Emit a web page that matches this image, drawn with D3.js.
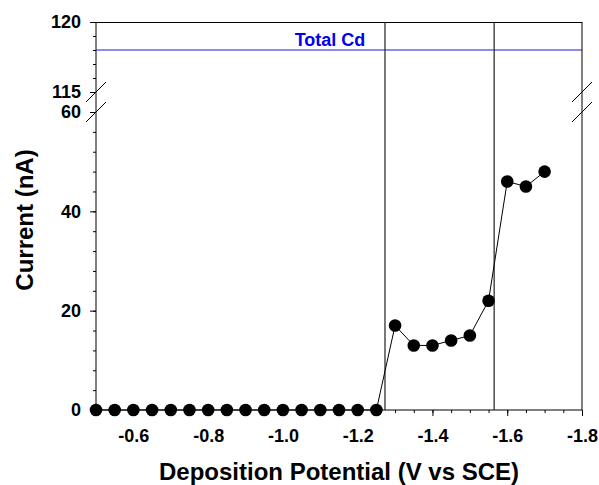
<!DOCTYPE html>
<html>
<head>
<meta charset="utf-8">
<script src="https://cdn.jsdelivr.net/npm/d3@7"></script>
<style>
body { margin: 0; background: #fff; }
text { font-family: "Liberation Sans", Arial, sans-serif; font-weight: bold; }
</style>
</head>
<body>
<script>
var w = 599;
var h = 485;

// data
var potentials = [-0.50, -0.55, -0.60, -0.65, -0.70, -0.75, -0.80, -0.85, -0.90, -0.95,
                  -1.00, -1.05, -1.10, -1.15, -1.20, -1.25, -1.30, -1.35, -1.40, -1.45,
                  -1.50, -1.55, -1.60, -1.65, -1.70];
var currents = [0, 0, 0, 0, 0, 0, 0, 0, 0, 0,
                0, 0, 0, 0, 0, 0, 17, 13, 13, 14,
                15, 22, 46, 45, 48];
var totalCd = 118;
var markerLines = [-1.273, -1.565];

var xTicks = [-0.6, -0.8, -1.0, -1.2, -1.4, -1.6, -1.8];
var yTicksLow = [0, 20, 40, 60];
var yTicksHigh = [115, 120];

var left = 96, right = 582;
var topY = 22, breakHi = 92, breakLo = 112, bottom = 410;

var svg = d3.select("body").append("svg")
    .attr("width", w)
    .attr("height", h);

var x = d3.scaleLinear().domain([-0.5, -1.8]).range([left, right]);
var yLow = d3.scaleLinear().domain([0, 60]).range([bottom, breakLo]);
var yHigh = d3.scaleLinear().domain([115, 120]).range([breakHi, topY]);

function minorRange(a, b, step) {
    var out = [];
    var n = Math.round((b - a) / step);
    for (var i = 0; i <= n; i++) out.push(+(a + i * step).toFixed(3));
    return out;
}

function styleAxis(g) {
    g.select(".domain").remove();
    g.selectAll("line").attr("stroke", "#000").attr("stroke-width", 1);
    g.selectAll("text").attr("fill", "#000").attr("font-size", 18);
}

//---- minor ticks -----
svg.append("g").attr("transform", "translate(0," + bottom + ")")
    .call(d3.axisBottom(x).tickValues(minorRange(-1.8, -0.5, 0.05)).tickSize(3).tickFormat(""))
    .call(styleAxis);
svg.append("g").attr("transform", "translate(" + left + ",0)")
    .call(d3.axisLeft(yLow).tickValues(minorRange(0, 60, 4)).tickSize(3).tickFormat(""))
    .call(styleAxis);
svg.append("g").attr("transform", "translate(" + left + ",0)")
    .call(d3.axisLeft(yHigh).tickValues(minorRange(115, 120, 1)).tickSize(3).tickFormat(""))
    .call(styleAxis);

//---- major ticks -----
svg.append("g").attr("transform", "translate(0," + bottom + ")")
    .call(d3.axisBottom(x).tickValues(xTicks).tickSize(6).tickPadding(13)
        .tickFormat(function (d) { return d.toFixed(1); }))
    .call(styleAxis);
svg.append("g").attr("transform", "translate(" + left + ",0)")
    .call(d3.axisLeft(yLow).tickValues(yTicksLow).tickSize(6).tickPadding(9)
        .tickFormat(function (d) { return d; }))
    .call(styleAxis);
svg.append("g").attr("transform", "translate(" + left + ",0)")
    .call(d3.axisLeft(yHigh).tickValues(yTicksHigh).tickSize(6).tickPadding(9)
        .tickFormat(function (d) { return d; }))
    .call(styleAxis);

//---- frame -----
var frame = svg.append("g").attr("stroke", "#000").attr("stroke-width", 1).attr("fill", "none");
frame.append("line").attr("x1", left).attr("x2", right).attr("y1", topY + 0.5).attr("y2", topY + 0.5);
frame.append("line").attr("x1", left).attr("x2", right).attr("y1", bottom).attr("y2", bottom);
frame.append("line").attr("x1", left).attr("x2", left).attr("y1", topY).attr("y2", bottom);
frame.append("line").attr("x1", right).attr("x2", right).attr("y1", topY).attr("y2", bottom);

// break marks on both sides
[left, right].forEach(function (bx) {
    [breakHi, breakLo].forEach(function (by) {
        svg.append("line")
            .attr("x1", bx - 10).attr("y1", by + 10)
            .attr("x2", bx + 10).attr("y2", by - 10)
            .attr("stroke", "#000").attr("stroke-width", 1);
    });
});

//---- total Cd line -----
svg.append("line")
    .attr("x1", left).attr("x2", right)
    .attr("y1", yHigh(totalCd)).attr("y2", yHigh(totalCd))
    .attr("stroke", "#1a1adc").attr("stroke-width", 1.2);
svg.append("text")
    .text("Total Cd")
    .attr("x", 330)
    .attr("y", yHigh(totalCd) - 4)
    .attr("text-anchor", "middle")
    .attr("font-size", 18)
    .attr("fill", "#0000ee");

//---- vertical marker lines -----
svg.selectAll(".vline").data(markerLines).enter().append("line")
    .attr("class", "vline")
    .attr("x1", function (d) { return x(d); }).attr("x2", function (d) { return x(d); })
    .attr("y1", topY).attr("y2", bottom)
    .attr("stroke", "#222").attr("stroke-width", 1.2);

//---- data -----
var pts = potentials.map(function (p, i) { return [p, currents[i]]; });
svg.append("path")
    .datum(pts)
    .attr("fill", "none")
    .attr("stroke", "#000")
    .attr("stroke-width", 1)
    .attr("d", d3.line().x(function (d) { return x(d[0]); }).y(function (d) { return yLow(d[1]); }));
svg.selectAll(".dot").data(pts).enter().append("circle")
    .attr("class", "dot")
    .attr("cx", function (d) { return x(d[0]); })
    .attr("cy", function (d) { return yLow(d[1]); })
    .attr("r", 6.3)
    .attr("fill", "#000");

//---- titles -----
svg.append("text")
    .text("Deposition Potential (V vs SCE)")
    .attr("x", (left + right) / 2)
    .attr("y", 480)
    .attr("text-anchor", "middle")
    .attr("font-size", 24)
    .attr("fill", "#000");
svg.append("text")
    .text("Current (nA)")
    .attr("transform", "translate(33,220) rotate(-90)")
    .attr("text-anchor", "middle")
    .attr("font-size", 24)
    .attr("fill", "#000");
</script>
</body>
</html>
